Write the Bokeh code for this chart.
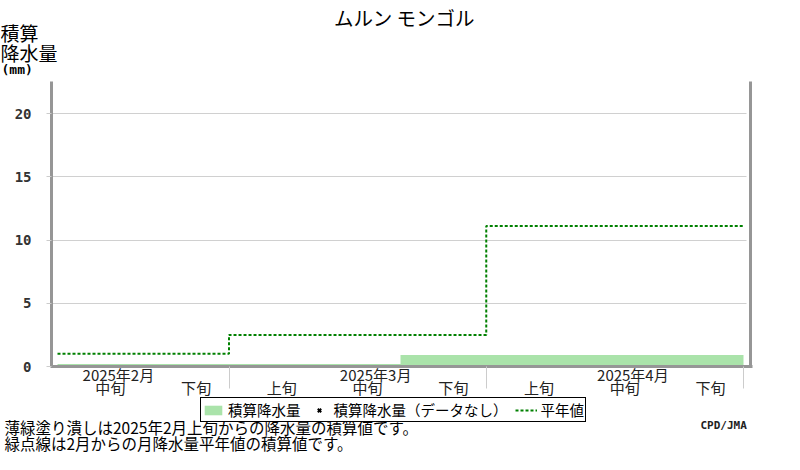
from bokeh.plotting import figure
from bokeh.models import Range1d, FixedTicker, LinearAxis, Label, Legend, LegendItem
from bokeh.embed import file_html
from bokeh.resources import INLINE

# ---------------- data ----------------
title_text = "ムルン モンゴル"
dekad_labels = ["中旬", "下旬", "上旬", "中旬", "下旬", "上旬", "中旬", "下旬"]
month_labels = ["2025年2月", "2025年3月", "2025年4月"]
month_label_dekad = [0, 3, 6]          # dekad index under which month label sits
month_bounds = [0, 2, 5, 8]            # dekad index where each month starts / ends
accum_precip = [0.2, 0.2, 0.2, 0.2, 0.9, 0.9, 0.9, 0.9]   # mm, per dekad
normal_accum = [1.0, 2.5, 11.1]        # mm, cumulative monthly normal
no_data_x = [float("nan")]             # dekads without data (none)
no_data_y = [float("nan")]
y_ticks = [0, 5, 10, 15, 20]
y_top = 22.5
legend_labels = ["積算降水量", "積算降水量（データなし）", "平年値"]
note_lines = ["薄緑塗り潰しは2025年2月上旬からの降水量の積算値です。",
              "緑点線は2月からの月降水量平年値の積算値です。"]
credit = "CPD/JMA"

# ---------------- layout (pixels on the canvas) ----------------
W, H = 784, 454
KX = 85.75          # px per dekad
KY = 12.65          # px per mm
PX0 = 57            # canvas x of dekad 0
PY0 = 366           # canvas y of 0 mm

def fx(px):
    return (px - PX0) / KX

def fy(py):
    return (PY0 - py) / KY

JP = "Noto Sans CJK JP"
GREEN = "#008000"
LGREEN = "#aae3aa"
GRAY = "#969696"
LGRAY = "#cccccc"

p = figure(width=W, height=H, x_range=Range1d(fx(0), fx(W)), y_range=Range1d(fy(H), fy(0)),
           output_backend="svg", toolbar_location=None,
           min_border=0, min_border_left=0, min_border_right=0,
           min_border_top=0, min_border_bottom=0)
p.title.visible = False
p.outline_line_color = None
p.background_fill_color = "white"
p.border_fill_color = "white"

xl, xr = fx(51), fx(750)

# y axis (left)
p.yaxis.fixed_location = xl
p.yaxis.bounds = (0, y_top)
p.yaxis.ticker = FixedTicker(ticks=y_ticks)
p.yaxis.axis_line_color = GRAY
p.yaxis.axis_line_width = 3
p.yaxis.major_tick_out = 5
p.yaxis.major_tick_in = 0
p.yaxis.major_tick_line_color = LGRAY
p.yaxis.minor_tick_line_color = None
p.yaxis.major_label_text_font = "DejaVu Sans Mono"
p.yaxis.major_label_text_font_style = "bold"
p.yaxis.major_label_text_font_size = "14px"
p.yaxis.major_label_text_color = "#333333"
p.yaxis.major_label_standoff = 15

# x axis (bottom): month boundaries as (label-less) minor ticks
p.xaxis.fixed_location = 0
p.xaxis.bounds = (fx(50), fx(752))
p.xaxis.ticker = FixedTicker(ticks=[], minor_ticks=month_bounds[1:])
p.xaxis.axis_line_color = GRAY
p.xaxis.axis_line_width = 3
p.xaxis.major_tick_line_color = None
p.xaxis.minor_tick_out = 22
p.xaxis.minor_tick_in = 0
p.xaxis.minor_tick_line_color = LGRAY
p.xaxis.minor_tick_line_width = 1

# right border axis
rax = LinearAxis(fixed_location=xr, bounds=(0, y_top), ticker=FixedTicker(ticks=[]),
                 axis_line_color=GRAY, axis_line_width=3,
                 major_tick_line_color=None, minor_tick_line_color=None)
p.add_layout(rax, "right")

p.xgrid.grid_line_color = None
p.ygrid.ticker = FixedTicker(ticks=y_ticks)
p.ygrid.grid_line_color = "#d0d0d0"
p.ygrid.grid_line_width = 1
p.ygrid.cross_bounds = (xl, fx(746))

# glyphs
xs = list(range(len(accum_precip) + 1))
r_fill = p.varea_step(x=xs, y1=[0] * len(xs), y2=accum_precip + [accum_precip[-1]],
                      step_mode="after", fill_color=LGREEN)
r_x = p.scatter(x=no_data_x, y=no_data_y, marker="x", size=8, line_width=2, line_color="black")
r_norm = p.step(x=month_bounds, y=normal_accum + [normal_accum[-1]], mode="after",
                line_color=GREEN, line_width=2, line_dash="3 2")

legend = Legend(items=[LegendItem(label=legend_labels[0], renderers=[r_fill]),
                       LegendItem(label=legend_labels[1], renderers=[r_x], index=0),
                       LegendItem(label=legend_labels[2], renderers=[r_norm])],
                location=(200, H - 422), orientation="horizontal",
                border_line_color="black", border_line_width=1, border_line_alpha=1,
                background_fill_color="white", background_fill_alpha=1,
                padding=1, margin=0, spacing=7, label_standoff=4,
                glyph_width=22, glyph_height=12, label_height=15,
                label_text_font=JP, label_text_font_size="14.5px", label_text_color="black")
p.add_layout(legend)

def txt(px, py, s, size, align="left", font=JP, bold=False, color="black", xdata=None, xoff=0):
    p.add_layout(Label(x=fx(px) if xdata is None else xdata, y=fy(py), x_offset=xoff,
                       text=s, text_align=align, text_baseline="top",
                       text_font=font, text_font_style="bold" if bold else "normal",
                       text_font_size=size, text_color=color))

# x tick labels
for i, lab in enumerate(dekad_labels):
    txt(0, 376, lab, "15px", align="center", xdata=i + 0.5, xoff=10, color="#222222")
for d, lab in zip(month_label_dekad, month_labels):
    txt(0, 363, lab, "15px", align="center", xdata=d + 0.5, xoff=18, color="#222222")

# title
txt(404, 2, title_text, "19.5px", align="center")

# y axis title
txt(0, 18, "積算", "19px")
txt(0, 38, "降水量", "19px")
txt(1, 61, "(mm)", "13px", font="DejaVu Sans Mono", bold=True)

# credit
txt(700, 418, credit, "11px", font="DejaVu Sans Mono", bold=True, color="#222222")

# notes
txt(4, 415.5, note_lines[0], "15.5px")
txt(4, 431, note_lines[1], "15.5px")

open("out.html", "w").write(file_html(p, INLINE))
